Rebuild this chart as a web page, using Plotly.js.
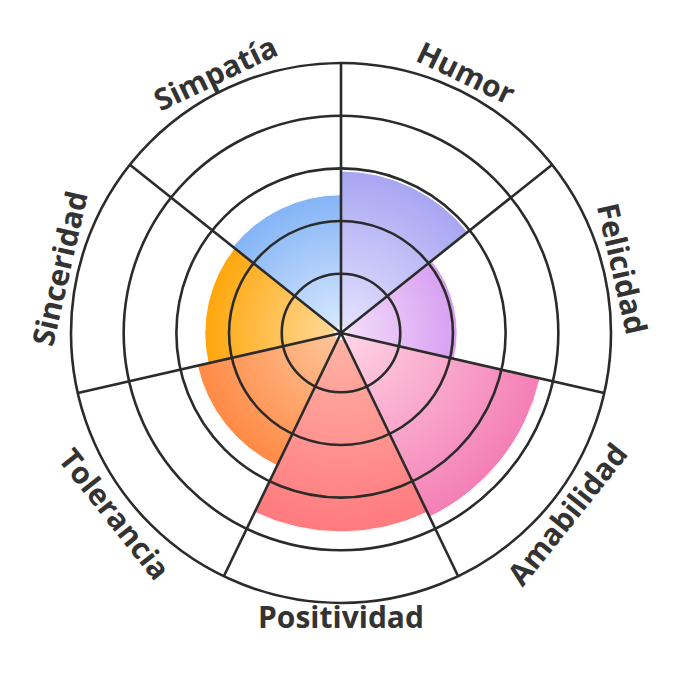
<!DOCTYPE html>
<html><head><meta charset="utf-8">
<script src="https://cdn.plot.ly/plotly-3.0.1.min.js"></script>
<style>html,body{margin:0;padding:0;background:#fff}</style>
</head><body>
<div id="chart" style="width:680px;height:680px"></div>
<script>
const categories = ['Humor', 'Felicidad', 'Amabilidad', 'Positividad', 'Tolerancia', 'Sinceridad', 'Simpatía'];
const values = [2.95, 2.08, 3.75, 3.65, 2.67, 2.46, 2.5];
const innerColors = ['#e6e4ff', '#f5e0fa', '#ffd6e6', '#ffb4a6', '#ffc79c', '#ffdca0', '#dbeaff'];
const outerColors = ['#a8a6f2', '#d79ff2', '#f47fb5', '#ff7a7e', '#ff8a45', '#ffa70c', '#84b4f6'];
const midColors = ['#c4c2f8', '#e6bdf6', '#f9a8cc', '#ff9a94', '#ffa870', '#ffc050', '#adcdfa'];
const gridTicks = [1, 2, 3, 4, 5];

const n = categories.length;
const step = 360 / n;
const cx = 341, cyTop = 333, R = 270, W = 680, H = 680;
const labelR = 289;

const annotations = categories.map((c, i) => {
  const a = (i + 0.5) * step;
  const rad = a * Math.PI / 180;
  let ang = a;
  if (a > 90 && a < 270) ang = a - 180;
  else if (a >= 270) ang = a - 360;
  const rr = Math.abs(a - 180) < 1 ? labelR - 6 : labelR;
  return {
    text: c, showarrow: false, xref: 'paper', yref: 'paper',
    x: (cx + rr * Math.sin(rad)) / W,
    y: (H - cyTop + rr * Math.cos(rad)) / H,
    xanchor: 'center', yanchor: 'middle', textangle: ang,
    font: {family: 'Open Sans, Noto Sans, sans-serif', size: 30, color: '#333333', weight: 700}
  };
});

const domain = {
  x: [(cx - R) / W, (cx + R) / W],
  y: [(H - cyTop - R) / H, (H - cyTop + R) / H]
};

const data = [
  {
    type: 'barpolar', subplot: 'polar',
    theta: categories, r: values,
    marker: {color: midColors, line: {color: '#ffffff', width: 1}},
    hoverinfo: 'skip'
  },
  {
    type: 'scatterpolar', subplot: 'polar2', mode: 'markers',
    r: [0], theta: [0], marker: {opacity: 0}, hoverinfo: 'skip', showlegend: false
  }
];

const layout = {
  width: W, height: H, margin: {l: 0, r: 0, t: 0, b: 0},
  paper_bgcolor: '#ffffff', showlegend: false,
  polar: {
    domain: domain, bgcolor: '#ffffff', bargap: 0,
    radialaxis: {range: [-0.125, 5], showgrid: false, showticklabels: false, showline: false, ticks: ''},
    angularaxis: {type: 'category', rotation: 90 - step / 2, direction: 'clockwise',
      showgrid: false, showticklabels: false, showline: false, ticks: ''}
  },
  polar2: {
    domain: domain, bgcolor: 'rgba(0,0,0,0)',
    radialaxis: {range: [-0.125, 5], tickvals: gridTicks, showgrid: true, gridcolor: '#2b2b2b', gridwidth: 2.6,
      showticklabels: false, showline: false, ticks: ''},
    angularaxis: {type: 'linear', thetaunit: 'degrees', rotation: 90, direction: 'clockwise',
      tickvals: categories.map((c, i) => i * step), showgrid: true, gridcolor: '#2b2b2b', gridwidth: 2.6,
      showticklabels: false, showline: true, linecolor: '#2b2b2b', linewidth: 2.6, ticks: ''}
  },
  annotations: annotations
};

const gd = document.getElementById('chart');
Plotly.newPlot(gd, data, layout, {staticPlot: true, displayModeBar: false}).then(() => {
  try {
    const sub = gd._fullLayout.polar._subplot;
    const NS = 'http://www.w3.org/2000/svg';
    const defs = gd.querySelector('svg.main-svg defs');
    gd.querySelectorAll('.barlayer g.point').forEach(g => {
      const d = g.__data__;
      const path = g.querySelector('path');
      if (!d || !path) return;
      const i = d.i;
      const grad = document.createElementNS(NS, 'radialGradient');
      grad.setAttribute('id', 'bargrad' + i);
      grad.setAttribute('gradientUnits', 'userSpaceOnUse');
      grad.setAttribute('cx', sub.cxx);
      grad.setAttribute('cy', sub.cyy);
      grad.setAttribute('r', d.rp1);
      const s0 = document.createElementNS(NS, 'stop');
      s0.setAttribute('offset', '0');
      s0.setAttribute('stop-color', innerColors[i]);
      const s1 = document.createElementNS(NS, 'stop');
      s1.setAttribute('offset', '1');
      s1.setAttribute('stop-color', outerColors[i]);
      grad.appendChild(s0); grad.appendChild(s1);
      defs.appendChild(grad);
      path.style.fill = 'url(#bargrad' + i + ')';
    });
  } catch (e) { console.log(e); }
});
</script>
</body></html>
